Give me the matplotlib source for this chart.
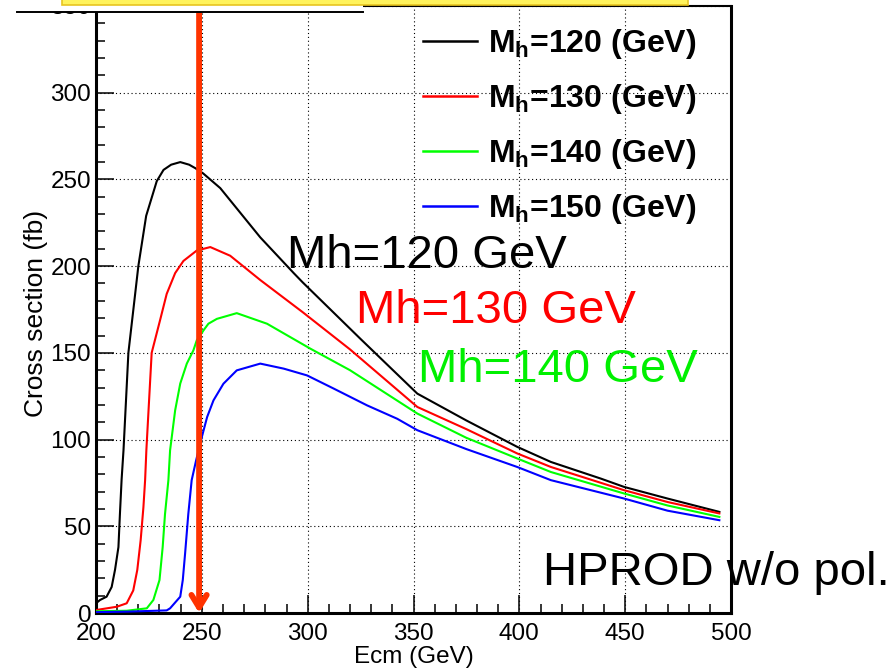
import matplotlib
matplotlib.use('Agg')
import matplotlib.pyplot as plt
from matplotlib.ticker import MultipleLocator
from matplotlib.patches import Rectangle
from matplotlib.lines import Line2D

plt.rcParams['font.family'] = ['Liberation Sans', 'DejaVu Sans']
plt.rcParams['mathtext.fontset'] = 'custom'
plt.rcParams['mathtext.rm'] = 'Liberation Sans'
plt.rcParams['mathtext.bf'] = 'Liberation Sans:bold'

# cross section vs Ecm
e_120 = [200, 201.9, 205, 207.4, 209, 210.6, 211.3, 212.1, 213, 215.3, 216.9, 218.5, 220, 223.7,
         228.7, 231.9, 235.5, 239.8, 244, 246.9, 250.6, 258.7, 277.6, 293.4, 297.6, 325,
         351.8, 375, 399, 414.9, 438.5, 449.5, 470, 494.5]
s_120 = [5.6, 7.5, 9.4, 15, 25, 38, 57, 77, 94, 150, 167, 184, 200, 229,
         249, 255.5, 258.5, 260, 258.5, 256.5, 253.5, 245, 216.6, 196, 190.7, 158,
         126.5, 111, 95.8, 87.1, 77.5, 72.7, 66, 58.3]

e_130 = [200, 209.8, 214.5, 217.6, 219.5, 221.1, 222.4, 223.2, 223.8, 226.3, 230.3, 233.4,
         237.4, 241.3, 247.6, 254, 263.4, 277.6, 297.6, 320, 351.8, 375, 399, 414.9,
         449.5, 470, 494.5]
s_130 = [1.7, 3.6, 5.6, 13, 24.8, 42, 61, 76.6, 94, 150, 169, 184,
         196, 203, 209, 211, 206, 192, 173.5, 152, 118.8, 106, 92, 84.2,
         70.8, 64, 57.4]

e_140 = [200, 214.5, 224, 227.1, 230, 231.5, 232.6, 234.2, 235, 237.4, 239.8, 242.9, 246,
         247.6, 250.8, 253.1, 257.1, 266.5, 280.8, 301.3, 320, 351.8, 375, 399, 414.9,
         449.5, 470, 494.5]
s_140 = [1, 1.3, 2.7, 7.5, 19, 38, 57, 76.6, 93.8, 116.9, 132.3, 143.8, 151.4,
         157.2, 163, 166.8, 169.6, 172.9, 166.8, 152.4, 140, 115, 101, 89.1, 81.3,
         68.9, 62, 55.4]

e_150 = [200, 215, 233.4, 235, 239.8, 241, 242.1, 243.6, 245.2, 247.3, 250, 252.5, 255.5,
         260.2, 266.5, 277.6, 288.7, 299.7, 312.3, 328.1, 342.3, 351.8, 375, 399, 414.9,
         449.5, 470, 494.5]
s_150 = [0.5, 0.8, 1.5, 2.7, 9.4, 19, 34.4, 57, 76.6, 88, 101.5, 113, 122.6,
         132.2, 139.9, 143.8, 140.9, 137, 129.4, 119.7, 112, 105.4, 94.5, 84.2, 76.6,
         66, 59, 53.5]

series = [(e_120, s_120, 'black', '120'),
          (e_130, s_130, '#FF0000', '130'),
          (e_140, s_140, '#00FF00', '140'),
          (e_150, s_150, '#0000FF', '150')]

W, H = 896, 670
fig = plt.figure(figsize=(W / 100, H / 100), dpi=100)
ax = fig.add_axes([96 / W, 1 - 613 / H, 635 / W, 607 / H])

for e, s, c, m in series:
    ax.plot(e, s, color=c, lw=1.5, zorder=3)

ax.set_xlim(200, 500)
ax.set_ylim(0, 350)
ax.xaxis.set_major_locator(MultipleLocator(50))
ax.xaxis.set_minor_locator(MultipleLocator(10))
ax.yaxis.set_major_locator(MultipleLocator(50))
ax.yaxis.set_minor_locator(MultipleLocator(10))
ax.tick_params(which='major', direction='in', length=13, width=1.1, labelsize=17.5)
ax.tick_params(which='minor', direction='in', length=6.5, width=1.1)
ax.tick_params(axis='x', pad=7)
ax.tick_params(axis='y', pad=3.5)
ax.grid(True, which='major', color='black', lw=0.8, linestyle=(0, (1, 2.5)))
for side in ['left', 'bottom', 'right']:
    ax.spines[side].set_linewidth(2.2)
ax.spines['top'].set_linewidth(1.5)

ax.set_xlabel('Ecm (GeV)', fontsize=17.5)
ax.set_ylabel('Cross section (fb)', fontsize=19)
ax.xaxis.set_label_coords(0.5, -0.054)
ax.yaxis.set_label_coords(-0.075, 0.494)

# legend
handles = [Line2D([], [], color=c, lw=1.8) for _, _, c, _ in series]
labels = [r'$\mathbf{M_h}$=' + m + ' (GeV)' for _, _, _, m in series]
leg = ax.legend(handles, labels, loc='upper left', bbox_to_anchor=(423 / W, 1 - 27 / H),
                bbox_transform=fig.transFigure, frameon=False, borderpad=0, borderaxespad=0,
                handlelength=1.7, handletextpad=0.33, labelspacing=0.655,
                prop={'family': 'Liberation Sans', 'weight': 'bold', 'size': 23})

# big annotations
fig.text(287 / W, 1 - 268 / H, 'Mh=120 GeV', fontsize=34, color='black', va='baseline')
fig.text(356 / W, 1 - 323 / H, 'Mh=130 GeV', fontsize=34, color='#FF0000', va='baseline')
fig.text(418 / W, 1 - 382 / H, 'Mh=140 GeV', fontsize=34, color='#00F000', va='baseline')
fig.text(543 / W, 1 - 585 / H, 'HPROD w/o pol.', fontsize=34, color='black', va='baseline')

# red arrow at 250 GeV
ax.annotate('', xy=(248.7, 0), xytext=(248.7, 347), zorder=6,
            arrowprops=dict(arrowstyle='->, head_length=0.9, head_width=0.55',
                            color='#FF3300', lw=4.2, shrinkA=0, shrinkB=0),
            annotation_clip=False)

# boxes at the top edge
fig.add_artist(Rectangle((17 / W, 1 - 11.7 / H), 346 / W, 11.7 / H, transform=fig.transFigure,
                         facecolor='white', edgecolor='none', zorder=10))
fig.add_artist(Line2D([17 / W, 363 / W], [1 - 11.7 / H] * 2, transform=fig.transFigure,
                      color='black', lw=1.4, zorder=11))
fig.add_artist(Rectangle((62 / W, 1 - 4.5 / H), 626 / W, 6 / H, transform=fig.transFigure,
                         facecolor='#FFF35C', edgecolor='#E8C520', lw=1.2, zorder=12))

fig.savefig('out.png', dpi=100)
